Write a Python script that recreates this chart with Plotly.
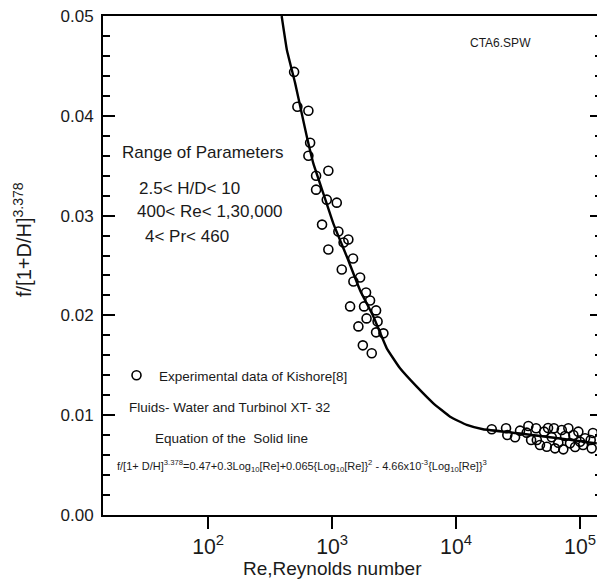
import numpy as np
import plotly.graph_objects as go

# Friction factor data of Kishore: low-Re group
exp_re_low = [494, 525, 644, 665, 644, 743, 933, 743, 906, 1091, 830, 1124, 1353, 1238,
              933, 1476, 1197, 1683, 1486, 1879, 1397, 2024, 1811, 2264, 1630, 1897,
              2328, 2264, 2594, 1770, 2089]
exp_f_low = [0.0444, 0.0409, 0.0405, 0.0373, 0.0360, 0.0340, 0.0345, 0.0326, 0.0316, 0.0313,
             0.0291, 0.0284, 0.0276, 0.0273, 0.0266, 0.0257, 0.0246, 0.0238, 0.0234, 0.0223,
             0.0209, 0.0215, 0.0209, 0.0205, 0.0189, 0.0197, 0.0194, 0.0183, 0.0182, 0.0170,
             0.0162]

# high-Re group
exp_re_high = [19400, 25300, 25900, 29900, 32800, 38300, 37100, 44200, 44800, 51300, 53900,
               59100, 61600, 66800, 71200, 75700, 80500, 83000, 88300, 96900, 100000, 109700,
               121900, 124100, 62800, 73300, 47500, 40300, 91200, 105700, 55200, 127000]
exp_f_high = [0.00859, 0.00869, 0.00802, 0.00779, 0.00845, 0.00892, 0.00825, 0.00869, 0.00752,
              0.00835, 0.00684, 0.00779, 0.00869, 0.00724, 0.00852, 0.00792, 0.00869, 0.00718,
              0.00802, 0.00835, 0.00734, 0.00769, 0.00752, 0.00668, 0.00668, 0.00658, 0.00701,
              0.00752, 0.00681, 0.00701, 0.00872, 0.00822]

# correlation (solid line)
curve_re = [392, 432, 503, 570, 626, 707, 851, 1024, 1314, 1683, 2153, 2761, 3533, 4818,
            6527, 8955, 12200, 16500, 32800, 69000, 136500]
curve_f = [0.0500, 0.0466, 0.0433, 0.0402, 0.0379, 0.0352, 0.0322, 0.0292, 0.0259, 0.0225,
           0.0199, 0.0167, 0.0147, 0.01286, 0.01122, 0.00985, 0.00902, 0.00859, 0.00817,
           0.00767, 0.00718]

y_tickvals = [0.00, 0.01, 0.02, 0.03, 0.04, 0.05]
x_range_re = [14.2, 137000]

W, H = 597, 581
ML, MR, MT, MB = 103, 0, 16, 66
PW, PH = W - ML - MR, H - MT - MB


def px(x):
    return (x - ML) / PW


def py(y):
    return (H - MB - y) / PH


FONT = "Liberation Sans, Arial, sans-serif"
INK = "#1a1a1a"

fig = go.Figure()

fig.add_trace(go.Scatter(
    x=curve_re, y=curve_f, mode="lines", showlegend=False,
    line=dict(color="black", width=2.4, shape="spline", smoothing=0.3),
))

fig.add_trace(go.Scatter(
    x=exp_re_low + exp_re_high, y=exp_f_low + exp_f_high, mode="markers",
    name="Experimental data of Kishore[8]",
    marker=dict(symbol="circle", size=9, color="rgba(0,0,0,0)",
                line=dict(color="black", width=1.6)),
))

# right-hand frame ticks
fig.add_trace(go.Scatter(x=[], y=[], yaxis="y2", showlegend=False, hoverinfo="skip"))

annotations = [
    dict(text="CTA6.SPW", x=px(500), y=py(43), font=dict(size=12)),
    dict(text="Range of Parameters", x=px(120), y=py(152), xanchor="left", font=dict(size=17)),
    dict(text="2.5&lt; H/D&lt; 10", x=px(137), y=py(188), xanchor="left", font=dict(size=17)),
    dict(text="400&lt; Re&lt; 1,30,000", x=px(135), y=py(212), xanchor="left", font=dict(size=17)),
    dict(text="4&lt; Pr&lt; 460", x=px(143), y=py(236), xanchor="left", font=dict(size=17)),
    dict(text="Fluids- Water and Turbinol XT- 32", x=px(127), y=py(407), xanchor="left",
         font=dict(size=13.5)),
    dict(text="Equation of the  Solid line", x=px(153), y=py(438), xanchor="left",
         font=dict(size=13.5)),
    dict(text="f/[1+ D/H]<sup>3.378</sup>=0.47+0.3Log<sub>10</sub>[Re]+0.065{Log<sub>10</sub>[Re]}"
              "<sup>2</sup> - 4.66x10<sup>-3</sup>{Log<sub>10</sub>[Re]}<sup>3</sup>",
         x=px(115), y=py(466), xanchor="left", font=dict(size=11)),
    dict(text="f/[1+D/H]<sup>3.378</sup>", x=px(22), y=py(240), textangle=-90,
         font=dict(size=20)),
    dict(text="Re,Reynolds number", x=px(332), y=py(568), font=dict(size=19)),
]
for a in annotations:
    a.update(xref="paper", yref="paper", showarrow=False)
    a.setdefault("xanchor", "center")
    a.setdefault("yanchor", "middle")
    a["font"].update(family=FONT, color=INK)

fig.update_layout(
    width=W, height=H,
    margin=dict(l=ML, r=MR, t=MT, b=MB, pad=0),
    paper_bgcolor="white", plot_bgcolor="white",
    font=dict(family=FONT, color=INK, size=17),
    annotations=annotations,
    showlegend=True,
    legend=dict(x=px(114), y=py(360), xanchor="left", yanchor="top",
                bgcolor="rgba(0,0,0,0)", borderwidth=0, itemwidth=35,
                font=dict(family=FONT, size=13.5, color=INK)),
    xaxis=dict(
        type="log", range=[np.log10(x_range_re[0]), np.log10(x_range_re[1])],
        dtick=1, exponentformat="power", showexponent="all",
        showline=True, linecolor="black", linewidth=2, mirror=True,
        ticks="outside", ticklen=12, tickwidth=2, tickcolor="black",
        tickfont=dict(size=17, family=FONT, color=INK),
        showgrid=False, zeroline=False,
    ),
    yaxis=dict(
        range=[0, 0.05], tickvals=y_tickvals, tickformat=".2f",
        showline=True, linecolor="black", linewidth=2,
        ticks="inside", ticklen=12, tickwidth=2, tickcolor="black",
        minor=dict(dtick=0.002, ticks="inside", ticklen=7, tickwidth=2, tickcolor="black"),
        tickfont=dict(size=17, family=FONT, color=INK), ticklabelstandoff=4,
        showgrid=False, zeroline=False,
    ),
    yaxis2=dict(
        overlaying="y", side="right", anchor="x", range=[0, 0.05], tickvals=y_tickvals,
        showticklabels=False, showline=False,
        ticks="inside", ticklen=7, tickwidth=2, tickcolor="black",
        minor=dict(dtick=0.002, ticks="inside", ticklen=2, tickwidth=2, tickcolor="black"),
        showgrid=False, zeroline=False,
    ),
)

fig.write_html("out.html")
